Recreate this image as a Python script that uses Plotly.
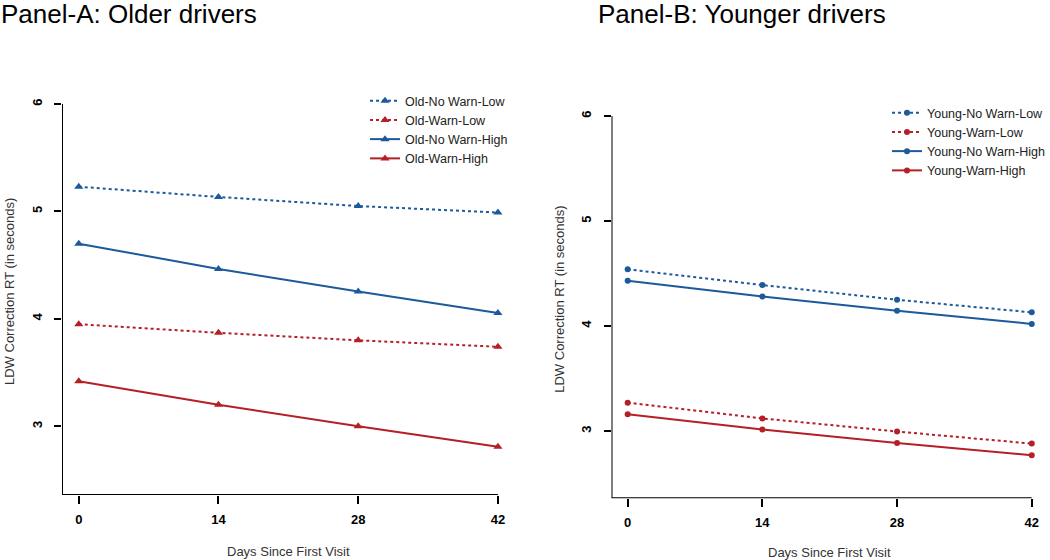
import plotly.graph_objects as go

# ---------------- data ----------------
days = [0, 14, 28, 42]

old_series = ["Old-No Warn-Low", "Old-Warn-Low", "Old-No Warn-High", "Old-Warn-High"]
old_nowarn_low = [5.23, 5.135, 5.05, 4.99]
old_warn_low = [3.95, 3.87, 3.80, 3.74]
old_nowarn_high = [4.70, 4.465, 4.255, 4.055]
old_warn_high = [3.42, 3.20, 3.00, 2.81]

young_series = ["Young-No Warn-Low", "Young-Warn-Low", "Young-No Warn-High", "Young-Warn-High"]
young_nowarn_low = [4.54, 4.39, 4.25, 4.13]
young_warn_low = [3.27, 3.12, 2.995, 2.88]
young_nowarn_high = [4.43, 4.28, 4.145, 4.02]
young_warn_high = [3.16, 3.015, 2.885, 2.77]

x_ticks = [0, 14, 28, 42]
y_ticks = [3, 4, 5, 6]

# ---------------- style ----------------
BLUE = "#1c5a9c"
RED = "#b51f27"
FONT = "Liberation Sans, Arial, sans-serif"
X_RANGE = [-1.68, 43.68]
Y_RANGE = [2.36, 6.14]

fig = go.Figure()

styles = [(BLUE, "dot"), (RED, "dot"), (BLUE, "solid"), (RED, "solid")]

for name, vals, (col, dash) in zip(old_series,
                                   [old_nowarn_low, old_warn_low, old_nowarn_high, old_warn_high],
                                   styles):
    fig.add_trace(go.Scatter(
        x=days, y=vals, name=name, mode="lines+markers",
        line=dict(color=col, width=2, dash=dash),
        marker=dict(symbol="triangle-up", size=8, color=col),
        xaxis="x", yaxis="y", legend="legend"))

for name, vals, (col, dash) in zip(young_series,
                                   [young_nowarn_low, young_warn_low, young_nowarn_high, young_warn_high],
                                   styles):
    fig.add_trace(go.Scatter(
        x=days, y=vals, name=name, mode="lines+markers",
        line=dict(color=col, width=2, dash=dash),
        marker=dict(symbol="circle", size=6, color=col),
        xaxis="x2", yaxis="y2", legend="legend2"))

W, H = 1050, 560
# plot areas in pixels (left, right, top, bottom)
A = (62, 514.7, 89, 495)
B = (611.5, 1047.9, 101.3, 498.2)


def xdom(p):
    return [p[0] / W, p[1] / W]


def ydom(p):
    return [1 - p[3] / H, 1 - p[2] / H]


def xaxis_cfg(p):
    return dict(domain=xdom(p), range=X_RANGE, tickvals=x_ticks, ticktext=[str(t) for t in x_ticks],
                showgrid=False, zeroline=False, showline=False,
                ticks="outside", ticklen=8, tickwidth=2, tickcolor="black",
                tickfont=dict(family=FONT, size=13, color="black", weight="bold"),
                ticklabelstandoff=4, fixedrange=True)


def yaxis_cfg(p, anchor):
    return dict(domain=ydom(p), range=Y_RANGE, tickvals=y_ticks, ticktext=[str(t) for t in y_ticks],
                showgrid=False, zeroline=False, showline=False, anchor=anchor,
                ticks="outside", ticklen=7, tickwidth=2, tickcolor="black", tickangle=-90,
                tickfont=dict(family=FONT, size=13, color="black", weight="bold"),
                ticklabelstandoff=7, fixedrange=True)


legend_font = dict(family=FONT, size=12.5, color="#222")

fig.update_layout(
    width=W, height=H,
    margin=dict(l=0, r=0, t=0, b=0),
    paper_bgcolor="white", plot_bgcolor="white",
    font=dict(family=FONT, color="#222"),
    xaxis=xaxis_cfg(A) | dict(anchor="y"),
    yaxis=yaxis_cfg(A, "x"),
    xaxis2=xaxis_cfg(B) | dict(anchor="y2"),
    yaxis2=yaxis_cfg(B, "x2"),
    legend=dict(x=365 / W, y=1 - 86 / H, xanchor="left", yanchor="top",
                font=legend_font, bgcolor="rgba(0,0,0,0)", itemwidth=30),
    legend2=dict(x=887 / W, y=1 - 98 / H, xanchor="left", yanchor="top",
                 font=legend_font, bgcolor="rgba(0,0,0,0)", itemwidth=30),
)

# L-shaped axis lines
for xr, yr in [("x", "y"), ("x2", "y2")]:
    fig.add_shape(type="line", xref=xr, yref=yr, x0=X_RANGE[0], x1=x_ticks[-1],
                  y0=Y_RANGE[0], y1=Y_RANGE[0], line=dict(color="black", width=2))
    fig.add_shape(type="line", xref=xr, yref=yr, x0=X_RANGE[0], x1=X_RANGE[0],
                  y0=Y_RANGE[0], y1=y_ticks[-1], line=dict(color="black", width=2))

annots = [
    dict(text="Panel-A: Older drivers", x=-1 / W, y=1 + 3 / H, xanchor="left", yanchor="top",
         font=dict(size=26, color="black")),
    dict(text="Panel-B: Younger drivers", x=596 / W, y=1 + 3 / H, xanchor="left", yanchor="top",
         font=dict(size=26, color="black")),
    dict(text="Days Since First Visit", x=(A[0] + A[1]) / 2 / W, y=1 - 551 / H,
         xanchor="center", yanchor="middle", font=dict(size=13, color="#333")),
    dict(text="Days Since First Visit", x=(B[0] + B[1]) / 2 / W, y=1 - 552 / H,
         xanchor="center", yanchor="middle", font=dict(size=13, color="#333")),
    dict(text="LDW Correction RT (in seconds)", x=9 / W, y=1 - (A[2] + A[3]) / 2 / H,
         xanchor="center", yanchor="middle", textangle=-90, font=dict(size=13, color="#333")),
    dict(text="LDW Correction RT (in seconds)", x=560 / W, y=1 - (B[2] + B[3]) / 2 / H,
         xanchor="center", yanchor="middle", textangle=-90, font=dict(size=13, color="#333")),
]
for a in annots:
    fig.add_annotation(xref="paper", yref="paper", showarrow=False, **a)

fig.write_html("out.html",
               config={"displayModeBar": False},
               post_script="document.body.style.margin='0';document.body.style.padding='0';"
                           "document.body.style.overflow='hidden';")
